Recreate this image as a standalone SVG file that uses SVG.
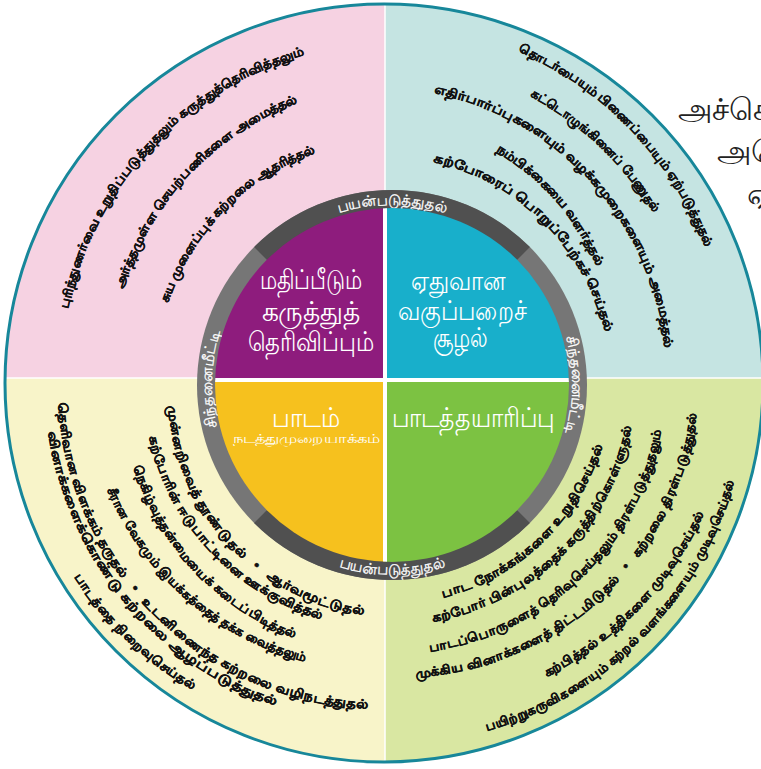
<svg xmlns="http://www.w3.org/2000/svg" width="761" height="769" viewBox="0 0 761 769">
<defs>
<clipPath id="outerClip"><circle cx="384" cy="383" r="380"/></clipPath>
<clipPath id="innerClip"><circle cx="392" cy="385" r="177"/></clipPath>
<style>
.t{font-family:"Noto Sans",sans-serif;font-weight:bold;font-size:12.5px;fill:#111;stroke:#111;stroke-width:0.35px;dominant-baseline:central}
.q{font-family:"Noto Sans",sans-serif;fill:#fff;text-anchor:middle;font-size:27px}
.r{font-family:"Noto Sans",sans-serif;fill:#fff;stroke:#fff;stroke-width:0.3px;font-size:15px;text-anchor:middle}
.s{font-family:"Noto Sans",sans-serif;fill:#222;font-size:31px}
</style>
<path id="TL1" d="M63,310 A337,337 0 0 1 305,50"/>
<path id="TL2" d="M118,290 A292,292 0 0 1 299,97"/>
<path id="TL3" d="M163,303 A243,243 0 0 1 316,147"/>
<path id="TR1" d="M518,46 A358,358 0 0 1 711,248"/>
<path id="TR2" d="M530,91 A325,325 0 0 1 659,213"/>
<path id="TR3" d="M433,88 A294,294 0 0 1 670,350"/>
<path id="TR4" d="M497,146 A255,255 0 0 1 602,267"/>
<path id="TR5" d="M433,157 A232,232 0 0 1 610,333"/>
<path id="BL1" d="M173,403 A220,220 0 0 0 367,610"/>
<path id="BL2" d="M153,433 A240,240 0 0 0 326,615"/>
<path id="BL3" d="M137,462 A262,262 0 0 0 300,635"/>
<path id="BL4" d="M111,486 A290,290 0 0 0 308,657"/>
<path id="BL5" d="M63,399 A320,320 0 0 0 372,704"/>
<path id="BL6" d="M53,429 A335,335 0 0 0 280,702"/>
<path id="BL7" d="M77,573 A358,358 0 0 0 197,687"/>
<path id="BR1" d="M440,593 A218,218 0 0 0 598,442"/>
<path id="BR2" d="M430,617 A240,240 0 0 0 627,423"/>
<path id="BR3" d="M427,647 A270,270 0 0 0 657,427"/>
<path id="BR4" d="M413,673 A298,298 0 0 0 692,410"/>
<path id="BR5" d="M543,673 A333,333 0 0 0 700,510"/>
<path id="BR6" d="M483,727 A356,356 0 0 0 730,477"/>
<path id="RT" d="M212,385 A180,180 0 0 1 572,385"/>
<path id="RB" d="M202,385 A190,190 0 0 0 582,385"/>
<path id="RL" d="M392,565 A180,180 0 0 1 392,205"/>
<path id="RR" d="M392,205 A180,180 0 0 1 392,565"/>
</defs>
<rect width="761" height="769" fill="#ffffff"/>
<g id="background" clip-path="url(#outerClip)">
<rect x="0" y="0" width="385" height="378" fill="#f6d2e2"/>
<rect x="385" y="0" width="376" height="378" fill="#c5e4e2"/>
<rect x="0" y="378" width="385" height="391" fill="#f8f4c9"/>
<rect x="385" y="378" width="376" height="391" fill="#d9e7a2"/>
<line x1="385" y1="0" x2="385" y2="769" stroke="#ffffff" stroke-width="1.5"/>
<line x1="0" y1="378" x2="761" y2="378" stroke="#ffffff" stroke-width="1.5"/>
</g>
<circle id="outer-circle" cx="384" cy="383" r="379" fill="none" stroke="#17879a" stroke-width="3"/>
<g id="ring">
<circle cx="392" cy="385" r="195" fill="#767676"/>
<path d="M392,385 L254.1,247.1 A195,195 0 0 1 529.9,247.1 Z" fill="#505050"/>
<path d="M392,385 L529.9,522.9 A195,195 0 0 1 254.1,522.9 Z" fill="#505050"/>
<text class="r"><textPath href="#RT" startOffset="50%">பயன்படுத்துதல்</textPath></text>
<text class="r"><textPath href="#RB" startOffset="50%">பயன்படுத்துதல்</textPath></text>
<text class="r"><textPath href="#RL" startOffset="51%">சிந்தனைமீட்டி</textPath></text>
<text class="r"><textPath href="#RR" startOffset="50%">சிந்தனைமீட்டி</textPath></text>
</g>
<g id="quadrants" clip-path="url(#innerClip)">
<rect x="200" y="200" width="185" height="180" fill="#8e1c7d"/>
<rect x="385" y="200" width="200" height="180" fill="#18afcb"/>
<rect x="200" y="380" width="185" height="190" fill="#f6c11e"/>
<rect x="385" y="380" width="200" height="190" fill="#7cc242"/>
<rect x="383" y="200" width="4" height="370" fill="#ffffff"/>
<rect x="200" y="378" width="390" height="4" fill="#ffffff"/>
</g>
<g id="node-assessment">
<text class="q" x="311" y="289" textLength="103" lengthAdjust="spacingAndGlyphs">மதிப்பீடும்</text>
<text class="q" x="311" y="321" textLength="99" lengthAdjust="spacingAndGlyphs">கருத்துத்</text>
<text class="q" x="311" y="351" textLength="127" lengthAdjust="spacingAndGlyphs">தெரிவிப்பும்</text>
</g>
<g id="node-environment">
<text class="q" x="458" y="290" textLength="95" lengthAdjust="spacingAndGlyphs">ஏதுவான</text>
<text class="q" x="462" y="320" textLength="129" lengthAdjust="spacingAndGlyphs">வகுப்பறைச்</text>
<text class="q" x="460" y="347" textLength="55" lengthAdjust="spacingAndGlyphs">சூழல்</text>
</g>
<g id="node-lesson">
<text class="q" x="306" y="427" textLength="68" lengthAdjust="spacingAndGlyphs">பாடம்</text>
<text class="q" x="306" y="443" style="font-size:13px" textLength="147" lengthAdjust="spacingAndGlyphs">நடத்துமுறையாக்கம்</text>
</g>
<g id="node-preparation">
<text class="q" x="473" y="427" textLength="163" lengthAdjust="spacingAndGlyphs">பாடத்தயாரிப்பு</text>
</g>
<g id="items-top-left">
<text class="t"><textPath href="#TL1" startOffset="50%" text-anchor="middle" textLength="370" lengthAdjust="spacingAndGlyphs">புரிந்துணர்வை உறுதிப்படுத்துதலும் கருத்துத்தெரிவித்தலும்</textPath></text>
<text class="t"><textPath href="#TL2" startOffset="50%" text-anchor="middle" textLength="270" lengthAdjust="spacingAndGlyphs">அர்த்தமுள்ள செயற்பணிகளை அமைத்தல்</textPath></text>
<text class="t"><textPath href="#TL3" startOffset="50%" text-anchor="middle" textLength="222" lengthAdjust="spacingAndGlyphs">சுய முனைப்புக் கற்றலை ஆதரித்தல்</textPath></text>
</g>
<g id="items-top-right">
<text class="t"><textPath href="#TR1" startOffset="50%" text-anchor="middle" textLength="282" lengthAdjust="spacingAndGlyphs">தொடர்பையும் பிணைப்பையும் ஏற்படுத்துதல்</textPath></text>
<text class="t"><textPath href="#TR2" startOffset="50%" text-anchor="middle" textLength="175" lengthAdjust="spacingAndGlyphs">கட்டொழுங்கினைப் பேணுதல்</textPath></text>
<text class="t"><textPath href="#TR3" startOffset="50%" text-anchor="middle" textLength="375" lengthAdjust="spacingAndGlyphs">எதிர்பார்ப்புகளையும் வழக்கமுறைகளையும் அமைத்தல்</textPath></text>
<text class="t"><textPath href="#TR4" startOffset="50%" text-anchor="middle" textLength="159" lengthAdjust="spacingAndGlyphs">நம்பிக்கையை வளர்த்தல்</textPath></text>
<text class="t"><textPath href="#TR5" startOffset="50%" text-anchor="middle" textLength="260" lengthAdjust="spacingAndGlyphs">கற்போரைப் பொறுப்பேற்கச் செய்தல்</textPath></text>
</g>
<g id="items-bottom-left">
<text class="t"><textPath href="#BL1" startOffset="50%" text-anchor="middle" textLength="304" lengthAdjust="spacingAndGlyphs">முன்னறிவைத் தூண்டுதல் &#160;&#160;•&#160;&#160; ஆர்வமூட்டுதல்</textPath></text>
<text class="t"><textPath href="#BL2" startOffset="50%" text-anchor="middle" textLength="259" lengthAdjust="spacingAndGlyphs">கற்போரின் ஈடுபாட்டினை ஊக்குவித்தல்</textPath></text>
<text class="t"><textPath href="#BL3" startOffset="50%" text-anchor="middle" textLength="240" lengthAdjust="spacingAndGlyphs">நெகிழ்வுத்தன்மையைக் கடைப்பிடித்தல்</textPath></text>
<text class="t"><textPath href="#BL4" startOffset="50%" text-anchor="middle" textLength="267" lengthAdjust="spacingAndGlyphs">சீரான வேகமும் இயக்கத்தைத் தக்க வைத்தலும்</textPath></text>
<text class="t"><textPath href="#BL5" startOffset="50%" text-anchor="middle" textLength="470" lengthAdjust="spacingAndGlyphs">தெளிவான விளக்கம் தருதல் &#160;&#160;•&#160;&#160; உடனிணைந்த கற்றலை வழிநடத்துதல்</textPath></text>
<text class="t"><textPath href="#BL6" startOffset="50%" text-anchor="middle" textLength="370" lengthAdjust="spacingAndGlyphs">வினாக்களைக்கொண்டு கற்றலை ஆழப்படுத்துதல்</textPath></text>
<text class="t"><textPath href="#BL7" startOffset="50%" text-anchor="middle" textLength="164" lengthAdjust="spacingAndGlyphs">பாடத்தை நிறைவுசெய்தல்</textPath></text>
</g>
<g id="items-bottom-right">
<text class="t"><textPath href="#BR1" startOffset="50%" text-anchor="middle" textLength="226" lengthAdjust="spacingAndGlyphs">பாட நோக்கங்களை உறுதிசெய்தல்</textPath></text>
<text class="t"><textPath href="#BR2" startOffset="50%" text-anchor="middle" textLength="291" lengthAdjust="spacingAndGlyphs">கற்போர் பின்புலத்தைக் கருத்திற்கொள்ளுதல்</textPath></text>
<text class="t"><textPath href="#BR3" startOffset="50%" text-anchor="middle" textLength="336" lengthAdjust="spacingAndGlyphs">பாடப்பொருளைத் தெரிவுசெய்தலும் திரள்படுத்துதலும்</textPath></text>
<text class="t"><textPath href="#BR4" startOffset="50%" text-anchor="middle" textLength="412" lengthAdjust="spacingAndGlyphs">முக்கிய வினாக்களைத் திட்டமிடுதல் &#160;&#160;•&#160;&#160; கற்றலை திரள்படுத்துதல்</textPath></text>
<text class="t"><textPath href="#BR5" startOffset="50%" text-anchor="middle" textLength="228" lengthAdjust="spacingAndGlyphs">கற்பித்தல் உத்திகளை முடிவுசெய்தல்</textPath></text>
<text class="t"><textPath href="#BR6" startOffset="50%" text-anchor="middle" textLength="363" lengthAdjust="spacingAndGlyphs">பயிற்றுகருவிகளையும் கற்றல் வளங்களையும் முடிவுசெய்தல்</textPath></text>
</g>
<g id="corner-text">
<text class="s" x="678" y="120">அச்செ</text>
<text class="s" x="717" y="162">அமெ</text>
<text class="s" x="747" y="205">ஏ</text>
</g>
</svg>
